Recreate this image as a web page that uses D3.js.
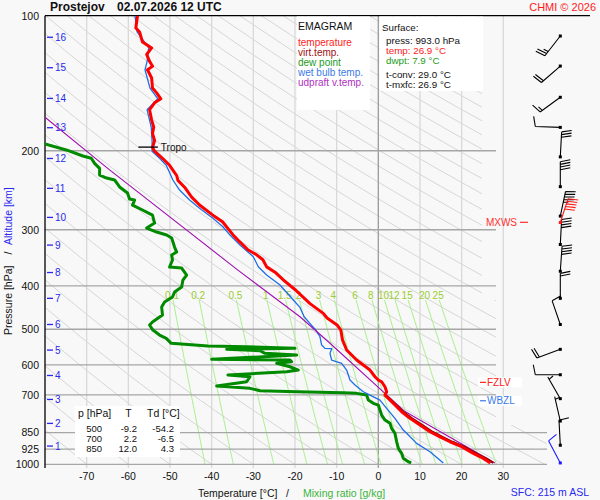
<!DOCTYPE html>
<html>
<head>
<meta charset="utf-8">
<script src="https://cdn.jsdelivr.net/npm/d3@7"></script>
<style>
  html, body { margin: 0; padding: 0; background: #f8f8f8; }
  svg { display: block; font-family: "Liberation Sans", Arial, sans-serif; }
</style>
</head>
<body>
<div id="chart"></div>
<script>
// ------- data -------
const pressTicks = [100, 200, 300, 400, 500, 600, 700, 850, 925, 1000];
const tempTicks = [-70, -60, -50, -40, -30, -20, -10, 0, 10, 20, 30];
const mixRatios = [0.1, 0.2, 0.5, 1, 1.5, 2, 3, 4, 6, 8, 10, 12, 15, 20, 25];
const altKm = [1, 2, 3, 4, 5, 6, 7, 8, 9, 10, 11, 12, 13, 14, 15, 16];
const altP = [910.6, 810.6, 716.8, 633.9, 556.4, 487.9, 426.6, 373.7, 324.6, 281.6, 242.6, 208.1, 177.7, 152.9, 130.6, 111.7];

// temperature
const tempP = [100, 106.5, 108.7, 114.5, 118, 122, 126.4, 129.7, 132, 137.7, 145, 148.6, 153.2, 156.4, 159.6, 162, 170.9, 177.3, 183, 189.8, 196.8, 200.5, 207.9, 215.5, 227.1, 232.9, 241.2, 253.8, 264.3, 278, 288, 307.7, 319, 332.5, 341.2, 350, 363, 374.3, 389.4, 409.3, 438.4, 460.8, 472, 489, 502, 528, 556.3, 570.8, 585.6, 600.8, 616.5, 638, 648.9, 654.6, 671.6, 689.1, 700.9, 712.9, 737.8, 763.7, 790, 817.7, 846.2, 868.3, 890.8, 913.8, 945.4, 970, 993];
const tempT = [-57.8, -58.2, -57.3, -56.6, -54.4, -55.6, -54.9, -54.2, -55.4, -54.4, -54.2, -53.2, -52.2, -53.7, -54.4, -54.9, -54.4, -53.9, -54.2, -53.7, -54.2, -53.7, -51.8, -50.1, -48.4, -48.1, -46.5, -44.8, -42.9, -39.8, -37.4, -34.9, -33.3, -31.3, -29.2, -27.7, -26.8, -24.6, -22.6, -19.8, -16.4, -13.2, -12.3, -9.9, -9.0, -8.6, -7.6, -6.4, -5.2, -3.6, -2.0, -0.8, 0.0, 0.8, 1.6, 2.0, 1.6, 2.4, 4.0, 5.6, 7.6, 10.0, 12.4, 14.8, 17.2, 20.0, 22.8, 25.2, 26.9];

// virtual temperature (lower part, above it sits under the temperature)
const virtP = [689.1, 700.9, 712.9, 737.8, 763.7, 790, 817.7, 846.2, 868.3, 890.8, 913.8, 945.4, 970, 993];
const virtT = [2.0, 1.7, 2.7, 4.3, 6.0, 8.1, 10.6, 13.0, 15.4, 17.8, 20.6, 23.5, 25.9, 27.6];

// dew point
const dewP = [193.2, 199.2, 205.5, 207.9, 213.4, 218.9, 226.6, 230.1, 232.4, 240.9, 248.5, 256.3, 257.6, 264.3, 271.1, 278.2, 289.9, 297.4, 303.6, 308.3, 313.1, 327.9, 336.4, 341.6, 350.5, 363.3, 365.2, 378.5, 388.4, 402.6, 413.1, 423.8, 434.8, 446.1, 464.8, 481.8, 489.3, 502.1, 515.1, 523.9, 537.5, 545, 547, 551.5, 554.3, 558.3, 565.8, 570.8, 583.5, 585.6, 590.8, 595.6, 606.1, 616.5, 621.8, 632.4, 638, 654.6, 669.2, 677.2, 685.6, 689.1, 692.6, 694.8, 700.9, 719.1, 731.4, 737.8, 756.9, 776.7, 796.8, 810.4, 831.5, 853.1, 890.7, 921.3, 945.3, 969.9, 987, 993];
const dewT = [-80.0, -74.9, -70.9, -68.9, -68.1, -66.9, -66.9, -65.2, -63.3, -62.1, -60.2, -59.7, -58.5, -59.0, -56.6, -54.2, -53.7, -55.6, -53.2, -50.8, -49.6, -48.9, -48.4, -49.6, -49.4, -50.1, -47.2, -46.0, -46.9, -47.2, -48.9, -49.4, -51.3, -52.0, -51.8, -54.2, -54.9, -54.1, -52.5, -50.9, -49.7, -40.9, -31.6, -20.0, -36.4, -28.4, -27.2, -19.6, -40.0, -21.2, -20.8, -24.4, -21.2, -19.2, -22.0, -36.1, -30.8, -31.6, -38.8, -30.8, -28.4, -19.6, -8.4, -5.2, -2.8, -2.4, -1.2, 0.0, 0.4, 0.8, 1.6, 2.8, 3.2, 4.0, 4.4, 4.8, 5.6, 6.0, 7.2, 7.9];

// wet bulb temperature
const wbP = [100, 108.7, 118, 126.4, 132, 145, 153.2, 162, 177.3, 189.8, 200.5, 207.9, 215.5, 232.4, 244.7, 257.6, 268.8, 282.9, 295.4, 308.3, 324.5, 344.6, 362.8, 378.5, 398.5, 430.4, 447, 468.9, 490, 502, 519.6, 542.2, 551.5, 552.5, 565.8, 585.6, 595.6, 616.5, 648.9, 665.8, 689.1, 700.9, 719.1, 750.4, 790, 838.9, 898.1, 937.6, 993];
const wbT = [-58.4, -57.9, -55.1, -55.5, -56.0, -54.8, -52.9, -55.5, -54.5, -54.3, -54.3, -52.5, -50.9, -49.3, -47.7, -45.3, -42.9, -39.7, -37.3, -35.6, -33.2, -30.0, -28.8, -26.8, -23.6, -20.4, -18.8, -17.8, -16.0, -15.0, -14.0, -13.6, -12.8, -11.2, -11.6, -11.2, -8.8, -7.6, -6.8, -5.6, -3.6, -2.0, 0.4, 2.0, 4.0, 6.0, 9.2, 12.4, 15.6];

// updraft virtual temperature
const updP = [168.4, 220.6, 369.1, 468.9, 502, 537.3, 689.4, 762.9, 993];
const updT = [-80.0, -64.5, -33.7, -18.8, -15.2, -11.6, 1.2, 6.4, 28.0];

// wind (direction the wind comes from, speed in kt)
const windP = [111, 129.5, 152, 177.4, 206.4, 240.5, 279.7, 289.1, 323.6, 371.2, 426.7, 487.9, 554.3, 631.5, 714, 800.8, 906.8, 993];
const windDir = [218, 229, 234, 272, 3, 0, 12, 18, 3, 4, 0, 341, 250, 270, 330, 347, 357, 332];
const windSpd = [25, 20, 15, 10, 30, 40, 45, 50, 40, 40, 20, 10, 20, 10, 5, 5, 10, 10];
const MXWS_INDEX = 7;

// levels
const tropoP = 196.3;
const mxwsP = 288.8;
const fzlvP = 656.6;
const wbzlP = 721.7;

// table
const tableP = ["500", "700", "850"];
const tableT = ["-9.2", "2.2", "12.0"];
const tableTd = ["-54.2", "-6.5", "4.3"];

// ------- drawing -------
const W = 600, H = 500;
const svg = d3.select("#chart").append("svg").attr("width", W).attr("height", H);

const x = d3.scaleLinear().domain([-80, 30]).range([45, 503.3]);
const y = d3.scaleLog().domain([100, 1000]).range([15.7, 464.3]);
const zip = (ps, ts) => ps.map((p, i) => ({ p, t: ts[i] }));
const line = d3.line().x(d => x(d.t)).y(d => y(d.p));

const defs = svg.append("defs");
defs.append("clipPath").attr("id", "plotClip")
  .append("rect").attr("x", 45).attr("y", 15.7).attr("width", 458.3).attr("height", 452.3);
defs.append("clipPath").attr("id", "adClip")
  .append("path").attr("d", "M45,15.7L482,15.7L482,300L496,300L496,425L547,425L547,468L45,468Z");

// dry adiabats
const adG = svg.append("g").attr("clip-path", "url(#adClip)");
const adPs = d3.range(1000, 99, -20).concat([100]);
d3.range(-80, 320, 10).forEach(thC => {
  const th = thC + 273.15;
  const pts = adPs.map(p => ({ p, t: th * Math.pow(p / 1000, 0.2857) - 273.15 }));
  adG.append("path").attr("d", line(pts)).attr("fill", "none")
    .attr("stroke", "#d6d6d6").attr("stroke-width", 1);
});

// isotherms
svg.append("g").selectAll("line").data(tempTicks).enter().append("line")
  .attr("x1", d => x(d)).attr("x2", d => x(d))
  .attr("y1", 15.7).attr("y2", 468)
  .attr("stroke", d => d === 0 ? "#9a9a9a" : "#d9d9d9").attr("stroke-width", 1.3);

// mixing ratio lines
const mixPs = d3.range(430, 1001, 10);
const satT = (w, p) => {
  const a = Math.log((w * p / (622 + w)) / 6.112);
  return 243.5 * a / (17.67 - a);
};
const mixG = svg.append("g").attr("clip-path", "url(#plotClip)");
mixRatios.forEach(w => {
  mixG.append("path").attr("d", line(mixPs.map(p => ({ p, t: satT(w, p) }))))
    .attr("fill", "none").attr("stroke", "#a8f08c").attr("stroke-width", 1);
});
svg.append("g").selectAll("text").data(mixRatios).enter().append("text")
  .attr("x", d => x(satT(d, 430)) - 1).attr("y", 298.5)
  .attr("text-anchor", "middle").attr("font-size", 10).attr("fill", "#9acd32")
  .text(d => d);

// isobars
svg.append("g").selectAll("line").data(pressTicks.filter(p => p > 100)).enter().append("line")
  .attr("x1", 45).attr("x2", d => d >= 850 ? 547 : 496)
  .attr("y1", d => y(d)).attr("y2", d => y(d))
  .attr("stroke", "#a6a6a6").attr("stroke-width", 1.3);

// frame
svg.append("line").attr("x1", 45).attr("x2", 590).attr("y1", 15.7).attr("y2", 15.7)
  .attr("stroke", "#000").attr("stroke-width", 1.3);
svg.append("line").attr("x1", 45).attr("x2", 45).attr("y1", 15.7).attr("y2", 468)
  .attr("stroke", "#000").attr("stroke-width", 1.3);

// pressure labels
svg.append("g").selectAll("text").data(pressTicks).enter().append("text")
  .attr("x", 39).attr("y", d => y(d) + 3.8).attr("text-anchor", "end")
  .attr("font-size", 10.5).attr("fill", "#111").text(d => d);

// altitude labels
const altG = svg.append("g");
altG.selectAll("line").data(altP).enter().append("line")
  .attr("x1", 47).attr("x2", 53).attr("y1", d => y(d)).attr("y2", d => y(d))
  .attr("stroke", "#2828f0").attr("stroke-width", 1.3);
altG.selectAll("text").data(altP).enter().append("text")
  .attr("x", 55).attr("y", d => y(d) + 3.7).attr("font-size", 10)
  .attr("fill", "#2828f0").text((d, i) => altKm[i]);

// temperature tick labels
svg.append("g").selectAll("text").data(tempTicks).enter().append("text")
  .attr("x", d => x(d)).attr("y", 480).attr("text-anchor", "middle")
  .attr("font-size", 10.5).attr("fill", "#111").text(d => d);

// axis titles
svg.append("text").attr("x", 198).attr("y", 497).attr("font-size", 10.5).attr("fill", "#111").text("Temperature [°C]");
svg.append("text").attr("x", 286).attr("y", 497).attr("font-size", 10.5).attr("fill", "#111").text("/");
svg.append("text").attr("x", 303).attr("y", 497).attr("font-size", 10.5).attr("fill", "#3cb43c").text("Mixing ratio [g/kg]");
svg.append("text").attr("transform", "translate(11.5,335) rotate(-90)")
  .attr("font-size", 10.5).attr("fill", "#111").text("Pressure [hPa]");
svg.append("text").attr("transform", "translate(11.5,253) rotate(-90)")
  .attr("text-anchor", "middle").attr("font-size", 10.5).attr("fill", "#111").text("/");
svg.append("text").attr("transform", "translate(11.5,245) rotate(-90)")
  .attr("font-size", 10.5).attr("fill", "#2828f0").text("Altitude [km]");

// title
svg.append("text").attr("x", 50).attr("y", 11).attr("font-size", 12).attr("font-weight", "bold")
  .attr("fill", "#111").text("Prostejov");
svg.append("text").attr("x", 117).attr("y", 11).attr("font-size", 12).attr("font-weight", "bold")
  .attr("fill", "#111").text("02.07.2026 12 UTC");
svg.append("text").attr("x", 596).attr("y", 10.5).attr("text-anchor", "end").attr("font-size", 11)
  .attr("fill", "#ff1a1a").text("CHMI © 2026");
svg.append("text").attr("x", 589).attr("y", 496).attr("text-anchor", "end").attr("font-size", 10.5)
  .attr("fill", "#2828f0").text("SFC: 215 m ASL");

// legend box
svg.append("rect").attr("x", 297).attr("y", 16.5).attr("width", 73).attr("height", 93.5).attr("fill", "#fff");
svg.append("text").attr("x", 298).attr("y", 30).attr("font-size", 10.5).attr("fill", "#111").text("EMAGRAM");
const legendItems = [
  ["temperature", "#ff1a1a"],
  ["virt.temp.", "#a01010"],
  ["dew point", "#1a9a1a"],
  ["wet bulb temp.", "#3a7ae8"],
  ["udpraft v.temp.", "#b030c0"]
];
svg.append("g").selectAll("text").data(legendItems).enter().append("text")
  .attr("x", 298).attr("y", (d, i) => 45.5 + i * 10).attr("font-size", 10)
  .attr("fill", d => d[1]).text(d => d[0]);

// surface box
svg.append("rect").attr("x", 379.5).attr("y", 16.5).attr("width", 103.5).attr("height", 74.5).attr("fill", "#fff");
const sfcLines = [
  ["Surface:", 382, 30.5, "#111"],
  ["press: 993.0 hPa", 386, 43.5, "#111"],
  ["temp: 26.9 °C", 386, 53.5, "#ff1a1a"],
  ["dwpt: 7.9 °C", 386, 63.5, "#1a9a1a"],
  ["t-conv: 29.0 °C", 386, 77.5, "#111"],
  ["t-mxfc: 26.9 °C", 386, 87.5, "#111"]
];
svg.append("g").selectAll("text").data(sfcLines).enter().append("text")
  .attr("x", d => d[1]).attr("y", d => d[2]).attr("font-size", 9.8)
  .attr("fill", d => d[3]).text(d => d[0]);

// table
svg.append("rect").attr("x", 75).attr("y", 406).attr("width", 105).attr("height", 51).attr("fill", "#fff");
const tbl = svg.append("g").attr("font-size", 9.5).attr("fill", "#111");
tbl.append("text").attr("x", 78).attr("y", 416.5).attr("font-size", 10.5).text("p [hPa]");
tbl.append("text").attr("x", 128.5).attr("y", 416.5).attr("font-size", 10.5).attr("text-anchor", "middle").text("T");
tbl.append("text").attr("x", 147).attr("y", 416.5).attr("font-size", 10.5).text("Td [°C]");
tableP.forEach((p, i) => {
  const yy = 431.5 + i * 10.2;
  tbl.append("text").attr("x", 102).attr("y", yy).attr("text-anchor", "end").text(p);
  tbl.append("text").attr("x", 137).attr("y", yy).attr("text-anchor", "end").text(tableT[i]);
  tbl.append("text").attr("x", 174).attr("y", yy).attr("text-anchor", "end").text(tableTd[i]);
});

// profiles
const prof = svg.append("g").attr("clip-path", "url(#plotClip)")
  .attr("fill", "none").attr("stroke-linejoin", "round");
prof.append("path").attr("d", line(zip(dewP, dewT))).attr("stroke", "#008a00").attr("stroke-width", 3);
prof.append("path").attr("d", line(zip(wbP, wbT))).attr("stroke", "#1e6ee8").attr("stroke-width", 1.3);
prof.append("path").attr("d", line(zip(updP, updT))).attr("stroke", "#a010b0").attr("stroke-width", 1.1);
prof.append("path").attr("d", line(zip(virtP, virtT))).attr("stroke", "#8c0000").attr("stroke-width", 2);
prof.append("path").attr("d", line(zip(tempP, tempT))).attr("stroke", "#ff0000").attr("stroke-width", 3);

// tropopause
svg.append("line").attr("x1", x(-57.6)).attr("x2", x(-52.9)).attr("y1", y(tropoP)).attr("y2", y(tropoP))
  .attr("stroke", "#000").attr("stroke-width", 1.3);
svg.append("text").attr("x", x(-52.2)).attr("y", y(tropoP) + 4).attr("font-size", 10)
  .attr("fill", "#111").text("Tropo");

// level labels
svg.append("text").attr("x", 517).attr("y", y(mxwsP) + 3.5).attr("text-anchor", "end")
  .attr("font-size", 10).attr("fill", "#ff3030").text("MXWS");
svg.append("line").attr("x1", 520).attr("x2", 528).attr("y1", y(mxwsP)).attr("y2", y(mxwsP))
  .attr("stroke", "#ff3030").attr("stroke-width", 1.2);
[[fzlvP, "FZLV", "#ff2020"], [wbzlP, "WBZL", "#3a7ae8"]].forEach(([p, label, c]) => {
  const yy = y(p);
  svg.append("rect").attr("x", 478).attr("y", yy - 5).attr("width", 44).attr("height", 10).attr("fill", "#fff");
  svg.append("line").attr("x1", 480).attr("x2", 486).attr("y1", yy).attr("y2", yy).attr("stroke", c).attr("stroke-width", 1.2);
  svg.append("text").attr("x", 487).attr("y", yy + 3.6).attr("font-size", 10).attr("fill", c).text(label);
});

// wind barbs
const barbX = 560.3;
function barbPath(x0, y0, dir, spd) {
  const L = 25, rad = dir * Math.PI / 180;
  const ux = Math.sin(rad), uy = -Math.cos(rad);
  const px = -uy, py = ux;
  const tx = x0 + L * ux, ty = y0 + L * uy;
  let d = `M${x0},${y0}L${tx},${ty}`;
  const full = Math.floor(spd / 10), half = (spd % 10) >= 5;
  let pos = 0;
  for (let k = 0; k < full; k++) {
    const sx = tx - pos * ux, sy = ty - pos * uy;
    d += `M${sx},${sy}l${10 * px + 2 * ux},${10 * py + 2 * uy}`;
    pos += 2.7;
  }
  if (half) {
    if (full === 0) pos = 2.7;
    const sx = tx - pos * ux, sy = ty - pos * uy;
    d += `M${sx},${sy}l${5 * px + 1 * ux},${5 * py + 1 * uy}`;
  }
  return d;
}
const barbs = svg.append("g").attr("fill", "none");
const order = windP.map((p, i) => i).filter(i => i !== MXWS_INDEX).concat([MXWS_INDEX]);
order.forEach(i => {
  const c = i === MXWS_INDEX ? "#ff1a1a" : (i === windP.length - 1 ? "#1a1aff" : "#000");
  const y0 = y(windP[i]);
  barbs.append("path").attr("d", barbPath(barbX, y0, windDir[i], windSpd[i]))
    .attr("stroke", c).attr("stroke-width", 1.1);
  barbs.append("rect").attr("x", barbX - 1.5).attr("y", y0 - 1.5).attr("width", 3).attr("height", 3)
    .attr("fill", c);
});
</script>
</body>
</html>
